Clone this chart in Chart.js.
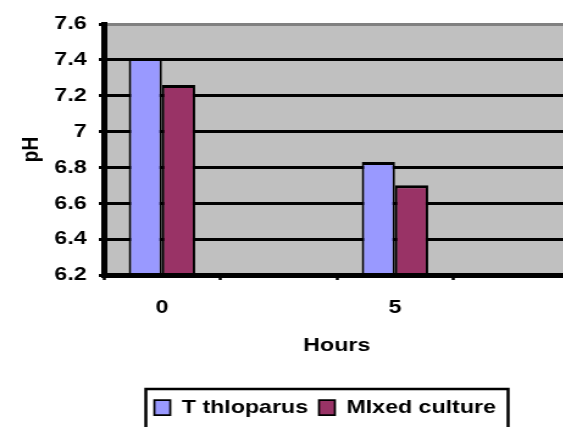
<!DOCTYPE html>
<html>
<head>
<meta charset="utf-8">
<script src="https://cdn.jsdelivr.net/npm/chart.js@4.4.0/dist/chart.umd.min.js"></script>
<style>
  html, body { margin: 0; padding: 0; background: #fff; overflow: hidden; width: 563px; height: 427px; }
  /* the original picture is stretched sideways, so the chart is too */
  #wrap { width: 467px; height: 427px; transform: scaleX(1.22); transform-origin: 0 0; }
</style>
</head>
<body>
<div id="wrap"><canvas id="chart" width="467" height="427"></canvas></div>
<script>
const hours = ['0', '', '5', ''];
const thioparus = [7.41, null, 6.83, null];
const mixedCulture = [7.26, null, 6.70, null];
const yTicks = [6.2, 6.4, 6.6, 6.8, 7, 7.2, 7.4, 7.6];
const yTickLabels = ['6.2', '6.4', '6.6', '6.8', '7', '7.2', '7.4', '7.6'];

const font = { family: '"Liberation Sans", Arial, sans-serif', size: 19, weight: 'bold' };

const plotBg = {
	id: 'plotBg',
	beforeDraw(chart) {
		const { ctx, chartArea: a } = chart;
		ctx.save();
		ctx.fillStyle = '#fff';
		ctx.fillRect(0, 0, chart.width, chart.height);
		ctx.fillStyle = '#c0c0c0';
		ctx.fillRect(a.left, a.top, a.right - a.left, a.bottom - a.top);
		ctx.restore();
	}
};

// legend sits right of centre in the original, and has a frame
const legendFrame = {
	id: 'legendFrame',
	afterLayout(chart) {
		chart.legend.left += 33;
		chart.legend.right += 33;
	},
	afterDraw(chart) {
		const boxes = chart.legend.legendHitBoxes;
		if (!boxes || !boxes.length) return;
		const first = boxes[0], last = boxes[boxes.length - 1];
		const ctx = chart.ctx;
		const x0 = first.left - 7;
		const x1 = last.left + last.width + 10;
		ctx.save();
		ctx.strokeStyle = '#000';
		ctx.lineWidth = 2.5;
		ctx.strokeRect(x0, first.top - 9, x1 - x0, 80);
		ctx.restore();
	}
};

new Chart(document.getElementById('chart'), {
	type: 'bar',
	data: {
		labels: hours,
		datasets: [
			{
				label: 'T thloparus',
				data: thioparus,
				backgroundColor: '#9999ff',
				borderColor: '#000',
				borderWidth: { top: 3, left: 2, right: 2, bottom: 0 }
			},
			{
				label: 'MIxed culture',
				data: mixedCulture,
				backgroundColor: '#993366',
				borderColor: '#000',
				borderWidth: { top: 3, left: 2, right: 2, bottom: 0 }
			}
		]
	},
	options: {
		responsive: false,
		animation: false,
		layout: { padding: { top: 24, left: 0, right: 0, bottom: 0 } },
		datasets: { bar: { categoryPercentage: 0.57, barPercentage: 1 } },
		plugins: {
			legend: {
				position: 'bottom',
				labels: { boxWidth: 13, boxHeight: 15, padding: 9, color: '#000', font: font }
			},
			tooltip: { enabled: false }
		},
		scales: {
			x: {
				grid: { offset: true, drawOnChartArea: false, drawTicks: true, tickLength: 5, tickWidth: 2.5, tickColor: '#000' },
				border: { color: '#000', width: 5, z: 1 },
				ticks: { color: '#000', font: font, padding: 16, maxRotation: 0, autoSkip: false },
				title: { display: true, text: 'Hours', color: '#000', font: font, padding: { top: 0, bottom: 32 } },
				afterFit(s) { s.height = 114; }
			},
			y: {
				min: 6.2,
				max: 7.6,
				afterBuildTicks(s) { s.ticks = yTicks.map(v => ({ value: v })); },
				ticks: { color: '#000', font: font, padding: 10, callback: (v, i) => yTickLabels[i] },
				grid: {
					color: c => (c.tick && c.tick.value === 7.6) ? '#808080' : '#000',
					lineWidth: 3,
					tickLength: 4,
					tickColor: '#000',
					tickWidth: 3
				},
				border: { color: '#000', width: 5, z: 1 },
				title: { display: true, text: 'pH', color: '#000', font: font, padding: { top: 14, bottom: 0 } },
				afterFit(s) { s.width = 85; }
			}
		}
	},
	plugins: [plotBg, legendFrame]
});
</script>
</body>
</html>
